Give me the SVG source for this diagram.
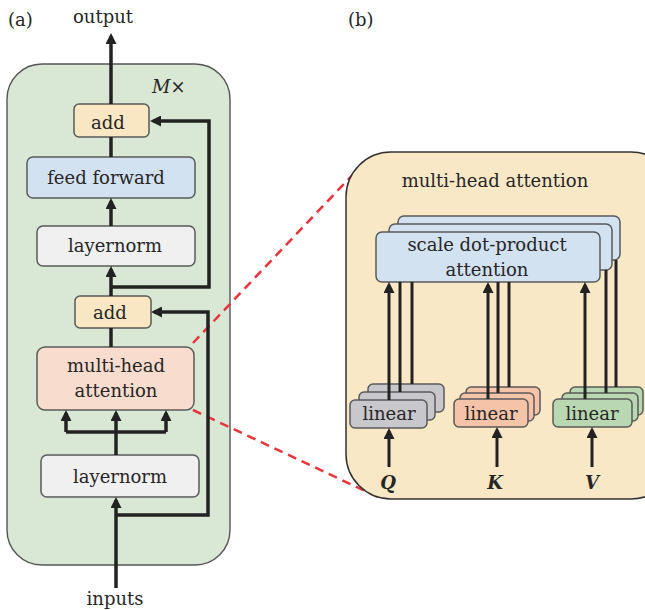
<svg xmlns="http://www.w3.org/2000/svg" width="645" height="610" viewBox="0 0 645 610">
<style>
text{font-family:"DejaVu Serif","Liberation Serif",serif;font-size:18px;fill:#262626}
.c{text-anchor:middle}
.box{stroke:#5a5a5a;stroke-width:1.5}
.w{fill:none;stroke:#222;stroke-width:3.5}
.w2{fill:none;stroke:#222;stroke-width:3}
.a{marker-end:url(#ah)}
.red{fill:none;stroke:#e8343a;stroke-width:2.5;stroke-dasharray:9 6}
</style>
<defs>
<marker id="ah" viewBox="0 0 10 10" refX="7.3" refY="5" markerWidth="11" markerHeight="11" markerUnits="userSpaceOnUse" orient="auto"><path d="M0,0 L10,5 L0,10 z" fill="#222"/></marker>
</defs>
<rect id="encoder" x="7" y="64" width="223" height="501" rx="35" fill="#d9e8d5" stroke="#555" stroke-width="1.4"/>
<text x="8" y="26">(a)</text>
<text x="103" y="23" class="c">output</text>
<text x="152" y="93" font-style="italic">M×</text>
<text x="348" y="26">(b)</text>
<text x="115" y="605" class="c">inputs</text>
<g id="add-top"><rect class="box" x="74" y="104" width="75" height="33" rx="5" fill="#f9e6c3"/><text x="108" y="129" class="c">add</text></g>
<g id="feed-forward"><rect class="box" x="27" y="157" width="168" height="41" rx="6" fill="#d3e2f1"/><text x="106" y="184" class="c">feed forward</text></g>
<g id="layernorm-top"><rect class="box" x="37" y="226" width="158" height="40" rx="6" fill="#f0f0f0"/><text x="115" y="252" class="c">layernorm</text></g>
<g id="add-low"><rect class="box" x="75" y="296" width="76" height="32" rx="5" fill="#f9e6c3"/><text x="110" y="319" class="c">add</text></g>
<g id="mha"><rect class="box" x="37" y="347" width="157" height="63" rx="8" fill="#f8dccd"/><text x="116" y="372" class="c">multi-head</text><text x="116" y="397" class="c">attention</text></g>
<g id="layernorm-bottom"><rect class="box" x="41" y="455" width="158" height="42" rx="6" fill="#f0f0f0"/><text x="120" y="483" class="c">layernorm</text></g>
<g id="zoom-lines">
<path class="red" d="M193,343 L360,167"/>
<path class="red" d="M193,410 L380,498"/>
</g>
<rect id="mha-detail" x="346" y="152" width="330" height="347" rx="45" fill="#f9e8c6" stroke="#333" stroke-width="1.5"/>
<text x="495" y="187" class="c">multi-head attention</text>
<g id="sdpa">
<rect class="box" x="398" y="216" width="222" height="44" rx="6" fill="#d3e2f1"/>
<rect class="box" x="389" y="224" width="223" height="46" rx="6" fill="#d3e2f1"/>
<rect class="box" x="376" y="232" width="224" height="50" rx="6" fill="#d3e2f1"/>
<text x="487" y="251" class="c">scale dot-product</text>
<text x="487" y="276" class="c">attention</text>
</g>
<g id="linear-q">
<rect class="box" x="368" y="384" width="76" height="28" rx="5" fill="#c8c7cc"/>
<rect class="box" x="359" y="392" width="76" height="28" rx="5" fill="#c8c7cc"/>
<rect class="box" x="350" y="400" width="77" height="28" rx="5" fill="#c8c7cc"/>
<text x="389" y="420" class="c">linear</text>
</g>
<g id="linear-k">
<rect class="box" x="466" y="387" width="74" height="28" rx="5" fill="#f4c3a8"/>
<rect class="box" x="460" y="393" width="74" height="28" rx="5" fill="#f4c3a8"/>
<rect class="box" x="454" y="399" width="74" height="28" rx="5" fill="#f4c3a8"/>
<text x="491" y="420" class="c">linear</text>
</g>
<g id="linear-v">
<rect class="box" x="570" y="387" width="73" height="28" rx="5" fill="#b9d8b2"/>
<rect class="box" x="562" y="393" width="76" height="28" rx="5" fill="#b9d8b2"/>
<rect class="box" x="553" y="399" width="79" height="28" rx="5" fill="#b9d8b2"/>
<text x="592" y="420" class="c">linear</text>
</g>
<text x="388" y="489" class="c" font-style="italic" font-weight="bold">Q</text>
<text x="495" y="489" class="c" font-style="italic" font-weight="bold">K</text>
<text x="592" y="489" class="c" font-style="italic" font-weight="bold">V</text>
<g id="connectors">
<path class="w a" d="M111,104 L111,36"/>
<path class="w a" d="M111,287 L209,287 L209,121 L153,121"/>
<path class="w" d="M111,157 L111,137"/>
<path class="w a" d="M111,226 L111,201"/>
<path class="w a" d="M111,296 L111,269"/>
<path class="w" d="M111,347 L111,328"/>
<path class="w a" d="M116,515 L208,515 L208,312 L154,312"/>
<path class="w a" d="M116,588 L116,500"/>
<path class="w a" d="M116,455 L116,413"/>
<path class="w" d="M66,432 L166,432"/>
<path class="w a" d="M66,432 L66,413"/>
<path class="w a" d="M166,432 L166,413"/>
<path class="w2 a" d="M389,467 L389,431"/>
<path class="w2 a" d="M497,467 L497,430"/>
<path class="w2 a" d="M592,467 L592,430"/>
<path class="w2 a" d="M389,400 L389,285"/>
<path class="w2" d="M400,392 L400,282"/>
<path class="w2" d="M412,384 L412,282"/>
<path class="w2 a" d="M488,399 L488,285"/>
<path class="w2" d="M498,393 L498,282"/>
<path class="w2" d="M509,387 L509,282"/>
<path class="w2 a" d="M585,399 L585,285"/>
<path class="w2" d="M606,393 L606,270"/>
<path class="w2" d="M616,387 L616,260"/>
</g>
</svg>
